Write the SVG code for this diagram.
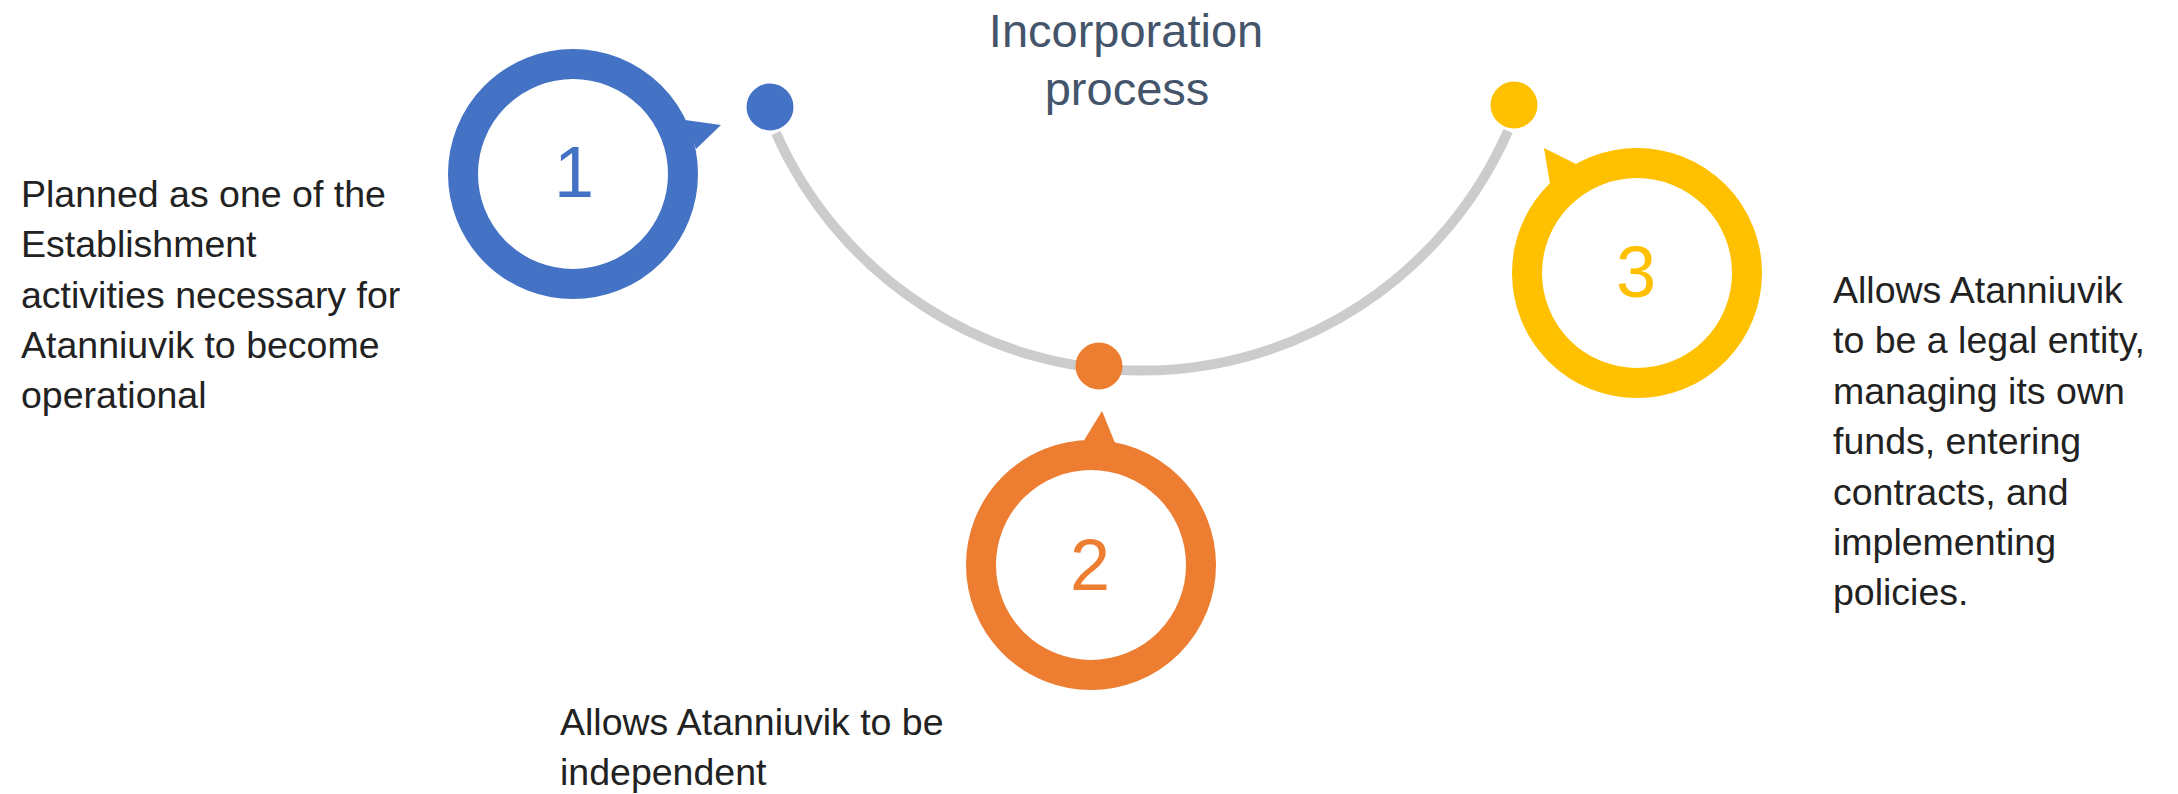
<svg xmlns="http://www.w3.org/2000/svg" width="2178" height="794" viewBox="0 0 2178 794">
<style>
  .ring { fill: #FFFFFF; stroke-width: 30; }
  .num { font-family: "Liberation Sans", Arial, sans-serif; font-size: 72px; text-anchor: middle; }
  .body { font-family: "Liberation Sans", Arial, sans-serif; font-size: 37.5px; fill: #222222; }
  .title { font-family: "Liberation Sans", Arial, sans-serif; font-size: 47px; fill: #44546A; text-anchor: middle; }
  .blue { fill: #4472C4; }
  .orange { fill: #ED7D31; }
  .yellow { fill: #FFC000; }
</style>
<rect width="2178" height="794" fill="#FFFFFF"/>
<g id="connectors">
  <path d="M 776 133 A 400 400 0 0 0 1508 131" fill="none" stroke="#CCCCCC" stroke-width="10"/>
</g>
<g id="title">
  <text class="title" x="1126" y="47">Incorporation</text>
  <text class="title" x="1127" y="105">process</text>
</g>
<g id="step1">
  <circle cx="770" cy="107" r="23.5" class="blue"/>
  <circle cx="573" cy="174" r="110" class="ring" stroke="#4472C4"/>
  <polygon points="685,120 721,125 696,149" class="blue"/>
  <text class="num blue" x="574" y="197">1</text>
  <text class="body" x="21" y="207">Planned as one of the</text>
  <text class="body" x="21" y="257">Establishment</text>
  <text class="body" x="21" y="308">activities necessary for</text>
  <text class="body" x="21" y="358">Atanniuvik to become</text>
  <text class="body" x="21" y="408">operational</text>
</g>
<g id="step2">
  <circle cx="1099" cy="366" r="23.5" class="orange"/>
  <circle cx="1091" cy="565" r="110" class="ring" stroke="#ED7D31"/>
  <polygon points="1102,411 1115,443 1083,442" class="orange"/>
  <text class="num orange" x="1090" y="590">2</text>
  <text class="body" x="560" y="735">Allows Atanniuvik to be</text>
  <text class="body" x="560" y="785">independent</text>
</g>
<g id="step3">
  <circle cx="1514" cy="105" r="23.5" class="yellow"/>
  <circle cx="1637" cy="273" r="110" class="ring" stroke="#FFC000"/>
  <polygon points="1544,148 1576,164 1550,184" class="yellow"/>
  <text class="num yellow" x="1636" y="297">3</text>
  <text class="body" x="1833" y="303">Allows Atanniuvik</text>
  <text class="body" x="1833" y="353">to be a legal entity,</text>
  <text class="body" x="1833" y="404">managing its own</text>
  <text class="body" x="1833" y="454">funds, entering</text>
  <text class="body" x="1833" y="505">contracts, and</text>
  <text class="body" x="1833" y="555">implementing</text>
  <text class="body" x="1833" y="605">policies.</text>
</g>
</svg>
